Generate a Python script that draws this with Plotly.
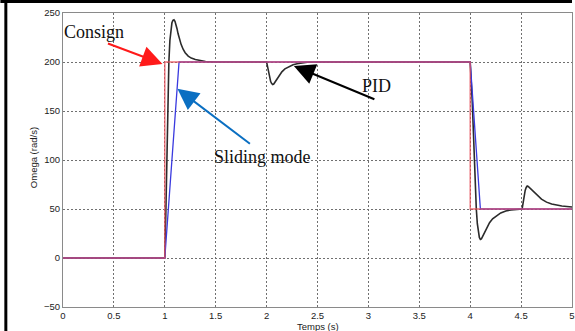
import plotly.graph_objects as go

# Consign (reference)
consign_t = [0, 1.0, 1.0, 4.0, 4.0, 5.0]
consign_y = [0, 0, 200, 200, 50, 50]

# Sliding mode
sliding_t = [0, 1.0, 1.14, 4.0, 4.1, 5.0]
sliding_y = [0, 0, 200, 200, 50, 50]

# PID
pid_t = [0, 1.0, 1.01, 1.02, 1.03, 1.04, 1.05, 1.06, 1.07, 1.08, 1.09, 1.1, 1.11, 1.12, 1.13,
         1.145, 1.16, 1.18, 1.2, 1.23, 1.26, 1.3, 1.35, 1.4, 1.5,
         2.0, 2.01, 2.02, 2.03, 2.04, 2.05, 2.06, 2.07, 2.08, 2.1, 2.12, 2.15, 2.18, 2.22,
         2.26, 2.3, 2.35, 2.4, 2.5,
         4.0, 4.02, 4.04, 4.06, 4.07, 4.08, 4.09, 4.1, 4.11, 4.12, 4.14, 4.16, 4.19, 4.22,
         4.26, 4.3, 4.35, 4.4, 4.51,
         4.52, 4.53, 4.54, 4.55, 4.56, 4.57, 4.59, 4.61, 4.64, 4.67, 4.7, 4.75, 4.8, 4.9, 5.0]
pid_y = [0, 0, 45, 100, 155, 200, 222, 234, 240, 242.5, 243, 241.5, 238.5, 234, 229,
         223, 218, 213, 209.5, 206, 204, 202.5, 201.3, 200.5, 200,
         200, 195, 189, 184, 180, 178, 177, 177.5, 179, 182.5, 186, 190, 193, 195.5,
         197.2, 198.3, 199.2, 199.7, 200,
         200, 160, 100, 50, 35, 26, 21, 19, 19.5, 21.5, 26, 31, 36, 40,
         43.5, 46, 48, 49, 50,
         57, 64, 69, 72, 73.5, 73, 71, 68.5, 65, 62, 60, 57, 55, 53, 52]

fig = go.Figure()
fig.add_trace(go.Scatter(x=pid_t, y=pid_y, mode="lines",
                         line=dict(color="#2b2b2b", width=1.6), name="PID"))
fig.add_trace(go.Scatter(x=sliding_t, y=sliding_y, mode="lines",
                         line=dict(color="#3a3adf", width=1.3), name="Sliding mode"))
fig.add_trace(go.Scatter(x=consign_t, y=consign_y, mode="lines",
                         line=dict(color="#e8505a", width=1.4), opacity=0.8, name="Consign"))

tickfont = dict(family="Liberation Sans, Arial", size=9.5, color="#222222")
titlefont = dict(family="Liberation Sans, Arial", size=9.5, color="#222222")

fig.update_xaxes(range=[0, 5], tickvals=[0, 0.5, 1, 1.5, 2, 2.5, 3, 3.5, 4, 4.5, 5],
                 ticktext=["0", "0.5", "1", "1.5", "2", "2.5", "3", "3.5", "4", "4.5", "5"],
                 showgrid=True, gridcolor="#707070", griddash="2px,2px", gridwidth=1,
                 zeroline=False, showline=True, mirror=True, linecolor="#8a8a8a", linewidth=1,
                 ticks="", tickfont=tickfont, ticklabeloverflow="allow")
fig.update_yaxes(range=[-50, 250], tickvals=[-50, 0, 50, 100, 150, 200, 250],
                 showgrid=True, gridcolor="#707070", griddash="2px,2px", gridwidth=1,
                 zeroline=False, showline=True, mirror=True, linecolor="#8a8a8a", linewidth=1,
                 ticks="", tickfont=tickfont)

W, H = 512, 294
def px(p):
    return (p - 63) / W
def py(p):
    return (307 - p) / H

fig.add_annotation(xref="paper", yref="paper", x=px(319), y=py(326), text="Temps (s)",
                   showarrow=False, font=titlefont, xanchor="center", yanchor="middle")
fig.add_annotation(xref="paper", yref="paper", x=px(33), y=py(158), text="Omega (rad/s)",
                   showarrow=False, font=titlefont, textangle=-90,
                   xanchor="center", yanchor="middle")

serif = dict(family="Liberation Serif, Times New Roman", size=18, color="#111111")
fig.add_annotation(x=0.977, y=198, ax=-56, ay=-21, text="", showarrow=True,
                   arrowcolor="#ff1a1a", arrowwidth=2, arrowhead=2, arrowsize=2.1)
fig.add_annotation(x=1.124, y=172.6, ax=74, ay=56, text="", showarrow=True,
                   arrowcolor="#0a6fc2", arrowwidth=2, arrowhead=2, arrowsize=2.1)
fig.add_annotation(x=2.268, y=196, ax=82, ay=34, text="", showarrow=True,
                   arrowcolor="#000000", arrowwidth=2, arrowhead=2, arrowsize=2.1)
fig.add_annotation(x=(94 - 63) / 102.3, y=(258 - 32) / 0.979, text="Consign",
                   showarrow=False, font=serif)
fig.add_annotation(x=(263 - 63) / 102.3, y=(258 - 157) / 0.979, text="Sliding mode",
                   showarrow=False, font=serif)
fig.add_annotation(x=(378 - 63) / 102.3, y=(258 - 86) / 0.979, text="PID",
                   showarrow=False, font=serif)

# black frame (top and left)
fig.add_shape(type="rect", xref="paper", yref="paper",
              x0=px(0), x1=px(575), y0=py(3), y1=py(0),
              fillcolor="black", line=dict(width=0), layer="above")
fig.add_shape(type="rect", xref="paper", yref="paper",
              x0=px(4), x1=px(7), y0=py(331), y1=py(0),
              fillcolor="black", line=dict(width=0), layer="above")

fig.update_layout(width=575, height=331, margin=dict(l=63, r=0, t=13, b=24),
                  paper_bgcolor="white", plot_bgcolor="white", showlegend=False)

fig.write_html("out.html")
